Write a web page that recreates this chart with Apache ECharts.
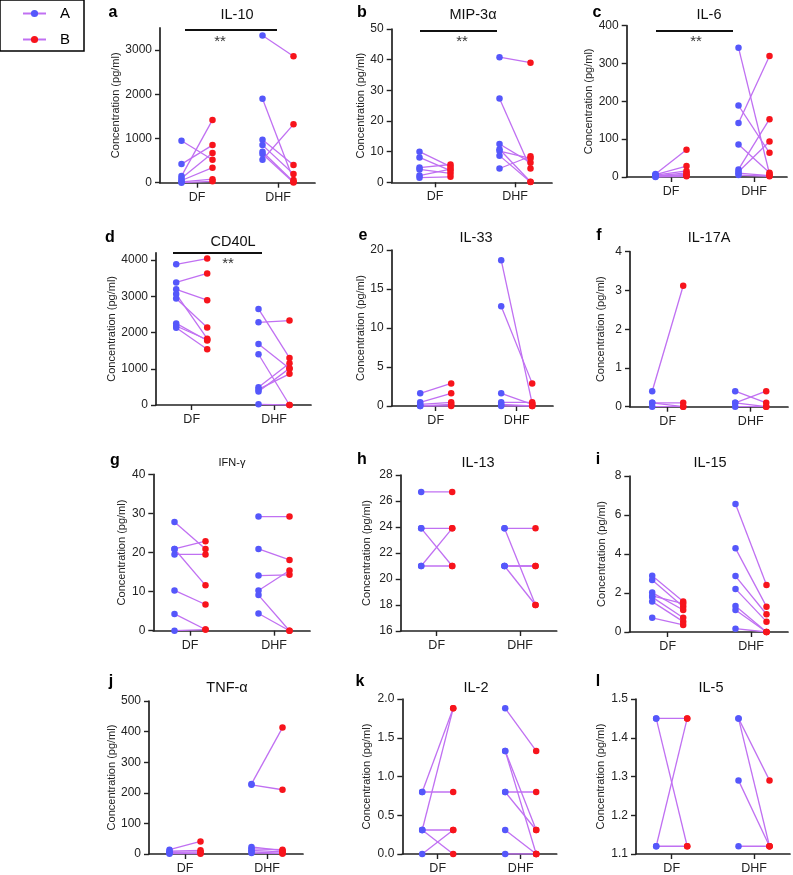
<!DOCTYPE html>
<html><head><meta charset="utf-8">
<script src="https://cdn.jsdelivr.net/npm/echarts@6/dist/echarts.min.js"></script>
<style>html,body{margin:0;padding:0;background:#fff}#c{width:793px;height:875px}</style>
</head><body><div id="c"></div>
<script>
// ---------------- DATA ----------------
const groups = ['DF', 'DHF'];
const seriesNames = ['A', 'B'];
const panelLetters = ['a','b','c','d','e','f','g','h','i','j','k','l'];
const panelTitles = ['IL-10','MIP-3α','IL-6','CD40L','IL-33','IL-17A','IFN-γ','IL-13','IL-15','TNF-α','IL-2','IL-5'];
const yAxisTitle = 'Concentration (pg/ml)';

// paired values: index i of A is joined to index i of B
const il10_DF_A  = [950, 420, 150, 100, 50, 20, 0];
const il10_DF_B  = [520, 850, 1420, 670, 340, 80, 30];
const il10_DHF_A = [3330, 1900, 970, 850, 700, 650, 520];
const il10_DHF_B = [2860, 60, 400, 196, 23, 5, 1320];

const mip_DF_A  = [10.0, 8.1, 4.8, 4.2, 2.2, 1.5];
const mip_DF_B  = [5.1, 3.8, 5.8, 2.9, 4.3, 1.8];
const mip_DHF_A = [40.8, 27.3, 12.5, 10.8, 10.2, 8.7, 4.5];
const mip_DHF_B = [39.0, 4.5, 6.4, 0.2, 7.8, 0.1, 8.5];

const il6_DF_A  = [8, 6, 5, 3, 2, 1, 0];
const il6_DF_B  = [72, 29, 16, 11, 7, 4, 2];
const il6_DHF_A = [342, 189, 143, 86, 20, 14, 10, 5];
const il6_DHF_B = [8, 64, 320, 11, 153, 94, 3.5, 2];

const cd40_DF_A  = [3880, 3380, 3190, 3060, 2940, 2250, 2180, 2130];
const cd40_DF_B  = [4040, 3630, 2890, 1830, 2140, 1780, 1800, 1540];
const cd40_DHF_A = [2650, 2280, 1680, 1400, 490, 430, 370, 18];
const cd40_DHF_B = [1300, 2330, 1010, 0, 1150, 860, 1010, 0];

const il33_DF_A  = [1.62, 0.47, 0.2, 0, 0];
const il33_DF_B  = [2.9, 1.62, 0.47, 0.2, 0];
const il33_DHF_A = [18.7, 12.8, 1.62, 0.47, 0.2, 0];
const il33_DHF_B = [0.3, 2.9, 0.2, 0.47, 0, 0];

const il17_DF_A  = [0.4, 0.1, 0.1, 0];
const il17_DF_B  = [3.12, 0.1, 0, 0];
const il17_DHF_A = [0.4, 0.1, 0.1, 0];
const il17_DHF_B = [0.1, 0.4, 0, 0];

const ifn_DF_A  = [27.8, 20.9, 20.9, 19.5, 10.3, 4.3, 0];
const ifn_DF_B  = [20.9, 22.9, 11.6, 19.5, 6.7, 0.3, 0.3];
const ifn_DHF_A = [29.2, 20.9, 14.1, 10.3, 9.1, 4.4];
const ifn_DHF_B = [29.2, 18.1, 14.3, 15.4, 0, 0];

const il13_DF_A  = [26.7, 23.9, 23.9, 21.0, 21.0];
const il13_DF_B  = [26.7, 23.9, 21.0, 23.9, 21.0];
const il13_DHF_A = [23.9, 23.9, 21.0, 21.0, 21.0];
const il13_DHF_B = [23.9, 18.0, 21.0, 21.0, 18.0];

const il15_DF_A  = [2.89, 2.67, 2.02, 1.85, 1.79, 1.56, 0.73];
const il15_DF_B  = [1.56, 1.30, 1.13, 1.45, 0.73, 0.53, 0.36];
const il15_DHF_A = [6.56, 4.29, 2.87, 2.21, 1.33, 1.13, 0.17];
const il15_DHF_B = [2.41, 1.30, 0.91, 0.53, 0, 0, 0];

const tnf_DF_A  = [14, 9, 5, 3, 1];
const tnf_DF_B  = [41, 12, 7, 3, 1];
const tnf_DHF_A = [229, 226, 23, 17, 12, 7, 3];
const tnf_DHF_B = [413, 210, 11, 14, 7, 2, 2];

const il2_DF_A  = [0.8, 0.31, 0.8, 0.31, 0.31, 0];
const il2_DF_B  = [1.88, 1.88, 0.8, 0.31, 0, 0.31];
const il2_DHF_A = [1.88, 1.33, 1.33, 0.8, 0.8, 0.31, 0];
const il2_DHF_B = [1.33, 0.31, 0, 0.8, 0.31, 0, 0];

const il5_DF_A  = [1.45, 1.45, 1.12, 1.12];
const il5_DF_B  = [1.45, 1.12, 1.45, 1.12];
const il5_DHF_A = [1.45, 1.45, 1.29, 1.12];
const il5_DHF_B = [1.29, 1.12, 1.12, 1.12];

// y-axis ticks and ranges
const il10_ticks = [0, 1000, 2000, 3000];     const il10_range = [0, 3500];
const mip_ticks  = [0, 10, 20, 30, 40, 50];   const mip_range  = [0, 50];
const il6_ticks  = [0, 100, 200, 300, 400];   const il6_range  = [0, 400];
const cd40_ticks = [0, 1000, 2000, 3000, 4000]; const cd40_range = [0, 4200];
const il33_ticks = [0, 5, 10, 15, 20];        const il33_range = [0, 20];
const il17_ticks = [0, 1, 2, 3, 4];           const il17_range = [0, 4];
const ifn_ticks  = [0, 10, 20, 30, 40];       const ifn_range  = [0, 40];
const il13_ticks = [16, 18, 20, 22, 24, 26, 28]; const il13_range = [16, 28];
const il15_ticks = [0, 2, 4, 6, 8];           const il15_range = [0, 8];
const tnf_ticks  = [0, 100, 200, 300, 400, 500]; const tnf_range = [0, 500];
const il2_ticks  = [0, 0.5, 1.0, 1.5, 2.0];   const il2_range  = [0, 2];
const il5_ticks  = [1.1, 1.2, 1.3, 1.4, 1.5]; const il5_range  = [1.1, 1.5];
const tickDecimals = [0,0,0,0,0,0,0,0,0,0,1,1];

// significance markers: panel index, label
const sigPanels = [0, 1, 2, 3];
const sigLabel = '**';

// ---------------- LAYOUT (pixels) ----------------
// [left, top, bottom, right, DF tick x, DHF tick x, y-name center x]
const layouts = [
  [160, 27.9, 182.7, 315, 197, 278, 123],
  [391.7, 29, 182.3, 552, 435, 515, 366.7],
  [626.7, 25.7, 177, 787, 671, 754, 600],
  [156, 252.75, 405, 311, 191.7, 274, 113.3],
  [391.7, 250, 406, 553, 435.7, 516.7, 366.7],
  [630, 251.7, 406.7, 788, 667.7, 750.7, 600],
  [153.3, 474.3, 630.7, 310, 190, 274, 121.7],
  [400.7, 475, 631, 556.7, 436.7, 520, 366.7],
  [629.3, 476, 632, 788, 667.7, 751, 601.7],
  [149, 701, 854.3, 303, 185, 267, 115],
  [402.3, 699, 854.3, 556.7, 437.7, 520.7, 366.7],
  [636, 699, 854.3, 790, 671.7, 754, 600]
];
const letterPos = [[113,13],[362,13],[597,13],[110,238],[363,236],[599,236],[115,461],[362,460],[598,460],[111,682],[360,682],[598,682]];
const titlePos  = [[237,15],[473,15],[709,15],[233,242],[476,238],[709,238],[232,463],[478,463],[710,463],[227,688],[476,688],[711,688]];
const sigBars = [[185,277,30,220,42],[420,497,31,462,42],[656,733,31,696,42],[173,262,253,228,264]];

const pointOffsetPx = 15.5;
const COL_A = '#5557fb', COL_B = '#f7141c', COL_LINE = '#c070f2', INK = '#222';
const FONT = '"Liberation Sans", Arial, sans-serif';

const panels = [
  [il10_DF_A, il10_DF_B, il10_DHF_A, il10_DHF_B, il10_ticks, il10_range],
  [mip_DF_A, mip_DF_B, mip_DHF_A, mip_DHF_B, mip_ticks, mip_range],
  [il6_DF_A, il6_DF_B, il6_DHF_A, il6_DHF_B, il6_ticks, il6_range],
  [cd40_DF_A, cd40_DF_B, cd40_DHF_A, cd40_DHF_B, cd40_ticks, cd40_range],
  [il33_DF_A, il33_DF_B, il33_DHF_A, il33_DHF_B, il33_ticks, il33_range],
  [il17_DF_A, il17_DF_B, il17_DHF_A, il17_DHF_B, il17_ticks, il17_range],
  [ifn_DF_A, ifn_DF_B, ifn_DHF_A, ifn_DHF_B, ifn_ticks, ifn_range],
  [il13_DF_A, il13_DF_B, il13_DHF_A, il13_DHF_B, il13_ticks, il13_range],
  [il15_DF_A, il15_DF_B, il15_DHF_A, il15_DHF_B, il15_ticks, il15_range],
  [tnf_DF_A, tnf_DF_B, tnf_DHF_A, tnf_DHF_B, tnf_ticks, tnf_range],
  [il2_DF_A, il2_DF_B, il2_DHF_A, il2_DHF_B, il2_ticks, il2_range],
  [il5_DF_A, il5_DF_B, il5_DHF_A, il5_DHF_B, il5_ticks, il5_range]
];

// ---------------- BUILD ----------------
const grids = [], xAxes = [], yAxes = [], series = [], graphics = [];

panels.forEach((p, i) => {
  const [L, T, B, R, dfX, dhfX, nameX] = layouts[i];
  const u = dhfX - dfX;
  const off = pointOffsetPx / u;
  grids.push({left: L, top: T, width: R - L, height: B - T, containLabel: false});
  xAxes.push({
    type: 'value', gridIndex: i,
    min: 1 - (dfX - L) / u, max: 2 + (R - dhfX) / u,
    axisLine: {lineStyle: {color: INK, width: 1.7}},
    axisTick: {customValues: [1, 2], length: 5, lineStyle: {color: INK, width: 1.4}},
    axisLabel: {customValues: [1, 2], margin: 8, color: INK, fontSize: 12.5, fontFamily: FONT,
      formatter: v => groups[Math.round(v) - 1]},
    splitLine: {show: false}
  });
  const dec = tickDecimals[i];
  yAxes.push({
    type: 'value', gridIndex: i, min: p[5][0], max: p[5][1],
    name: yAxisTitle, nameLocation: 'middle', nameGap: L - nameX - 6,
    nameTextStyle: {color: INK, fontSize: 11, fontFamily: FONT},
    axisLine: {show: true, lineStyle: {color: INK, width: 1.7}},
    axisTick: {show: true, customValues: p[4], length: 5, lineStyle: {color: INK, width: 1.4}},
    axisLabel: {customValues: p[4], margin: 8, color: INK, fontSize: 12, fontFamily: FONT,
      formatter: v => Number(v).toFixed(dec)},
    splitLine: {show: false}
  });
  const ptsA = [], ptsB = [];
  [[p[0], p[1], 1], [p[2], p[3], 2]].forEach(([av, bv, g]) => {
    av.forEach((a, k) => {
      series.push({
        type: 'line', xAxisIndex: i, yAxisIndex: i, silent: true, showSymbol: false,
        lineStyle: {color: COL_LINE, width: 1.3}, z: 2,
        data: [[g - off, a], [g + off, bv[k]]]
      });
      ptsA.push([g - off, a]);
      ptsB.push([g + off, bv[k]]);
    });
  });
  series.push({type: 'scatter', xAxisIndex: i, yAxisIndex: i, symbolSize: 6.5, z: 5,
    itemStyle: {color: COL_A, opacity: 1}, data: ptsA});
  series.push({type: 'scatter', xAxisIndex: i, yAxisIndex: i, symbolSize: 6.5, z: 5,
    itemStyle: {color: COL_B, opacity: 1}, data: ptsB});

  graphics.push({type: 'text', x: letterPos[i][0], y: letterPos[i][1],
    style: {text: panelLetters[i], font: 'bold 16px ' + FONT, fill: '#000', align: 'center', verticalAlign: 'middle'}});
  graphics.push({type: 'text', x: titlePos[i][0], y: titlePos[i][1],
    style: {text: panelTitles[i], font: (i === 6 ? '11px ' : '14.5px ') + FONT, fill: '#111', align: 'center', verticalAlign: 'middle'}});
});

sigPanels.forEach((pi, k) => {
  const [x1, x2, y, tx, ty] = sigBars[k];
  graphics.push({type: 'line', shape: {x1, y1: y, x2, y2: y}, style: {stroke: '#111', lineWidth: 2}});
  graphics.push({type: 'text', x: tx, y: ty,
    style: {text: sigLabel, font: '15px ' + FONT, fill: '#333', align: 'center', verticalAlign: 'middle'}});
});

// legend-only series
seriesNames.forEach((n, k) => {
  series.push({type: 'line', name: n, xAxisIndex: 0, yAxisIndex: 0, data: [],
    symbol: 'circle', symbolSize: 7, itemStyle: {color: k === 0 ? COL_A : COL_B, opacity: 1},
    lineStyle: {color: COL_LINE, width: 1.5}});
});

const chart = echarts.init(document.getElementById('c'), null, {renderer: 'canvas'});
chart.setOption({
  animation: false,
  backgroundColor: '#fff',
  legend: {
    data: seriesNames, left: 0, top: 0, orient: 'vertical',
    padding: [6, 14, 4, 22], itemWidth: 23, itemHeight: 9, itemGap: 11,
    borderColor: '#000', borderWidth: 1.5, selectedMode: false,
    textStyle: {color: '#000', fontSize: 15, lineHeight: 14, fontFamily: FONT, padding: [0, 0, 0, 9]}
  },
  grid: grids, xAxis: xAxes, yAxis: yAxes, series,
  graphic: graphics
});
</script></body></html>
